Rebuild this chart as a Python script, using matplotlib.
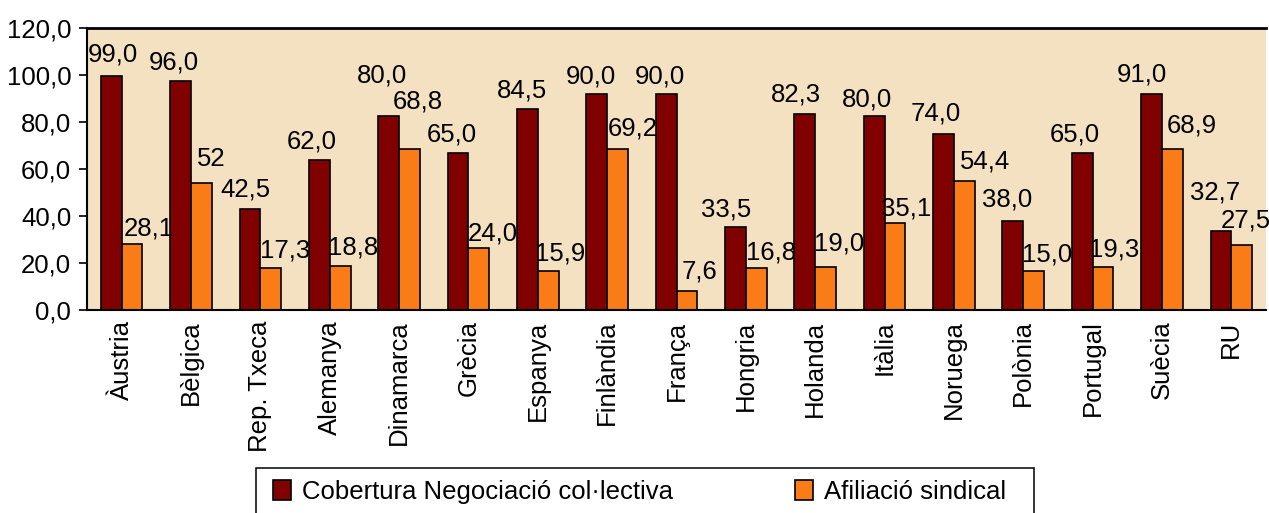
import matplotlib
matplotlib.use("Agg")
import matplotlib.pyplot as plt
from matplotlib.patches import Rectangle
import numpy as np

# ---- data ----
countries = ["Àustria", "Bèlgica", "Rep. Txeca", "Alemanya", "Dinamarca", "Grècia",
             "Espanya", "Finlàndia", "França", "Hongria", "Holanda", "Itàlia",
             "Noruega", "Polònia", "Portugal", "Suècia", "RU"]
cobertura = [99.6, 97.3, 42.9, 64.0, 82.7, 66.6, 85.4, 91.9, 91.9, 35.4, 83.4, 82.7,
             75.1, 38.0, 66.6, 91.9, 33.7]
afiliacio = [27.9, 54.1, 17.7, 18.6, 68.3, 26.2, 16.7, 68.3, 8.2, 17.7, 18.4, 37.1,
             54.8, 16.7, 18.4, 68.3, 27.8]
cobertura_labels = ["99,0", "96,0", "42,5", "62,0", "80,0", "65,0", "84,5", "90,0", "90,0",
                    "33,5", "82,3", "80,0", "74,0", "38,0", "65,0", "91,0", "32,7"]
afiliacio_labels = ["28,1", "52", "17,3", "18,8", "68,8", "24,0", "15,9", "69,2", "7,6",
                    "16,8", "19,0", "35,1", "54,4", "15,0", "19,3", "68,9", "27,5"]
series_names = ["Cobertura Negociació col·lectiva", "Afiliació sindical"]
yticks = [0, 20, 40, 60, 80, 100, 120]

# ---- label placement (pixel offsets from bar top centre) ----
cob_off = [(1.5, 14), (-6.7, 11.7), (-5, 12.3), (-8, 11.3), (-7, 33.6), (-6, 11.7),
           (-5, 12.3), (-5.7, 11), (-6, 11), (-9, 10), (-8.5, 13), (-7, 9.3),
           (-7.3, 12.6), (-5.6, 14.7), (-7.5, 11.6), (-9.8, 12.7), (-5.7, 31.4)]
afi_off = [(17, 9), (10, 17), (14, 10.6), (13, 11.3), (8, 41), (14, 7.7), (12, 10.7),
           (15, 13.6), (12.5, 12.3), (15, 9.3), (13.5, 16.7), (10.7, 7.7), (21, 12.7),
           (13, 9.7), (11, 10.7), (19.7, 16.6), (4, 17)]

plt.rcParams['font.family'] = ['Liberation Sans', 'DejaVu Sans']
FS = 18.5

W, H = 1269, 513
fig = plt.figure(figsize=(W / 100, H / 100), dpi=100)
ax = fig.add_axes([87 / W, 1 - 310 / H, (1266 - 87) / W, (310 - 28) / H])

dark = '#800000'
orange = '#FA7C17'
bg = '#F4E1C2'
ax.set_facecolor(bg)

x = np.arange(len(countries))
bw = 0.3
b1 = ax.bar(x - bw / 2, cobertura, bw, color=dark, edgecolor='black', linewidth=1.2,
            label=series_names[0])
b2 = ax.bar(x + bw / 2, afiliacio, bw, color=orange, edgecolor='black', linewidth=1.2,
            label=series_names[1])

for xi, v, lab, (dx, dy) in zip(x - bw / 2, cobertura, cobertura_labels, cob_off):
    ax.annotate(lab, (xi, v), xytext=(dx, dy), textcoords='offset pixels',
                ha='center', va='baseline', fontsize=FS, color='black')
for xi, v, lab, (dx, dy) in zip(x + bw / 2, afiliacio, afiliacio_labels, afi_off):
    ax.annotate(lab, (xi, v), xytext=(dx, dy), textcoords='offset pixels',
                ha='center', va='baseline', fontsize=FS, color='black',
                annotation_clip=False)

ax.set_xlim(-0.5, len(countries) - 0.5)
ax.set_ylim(0, 120)
ax.set_yticks(yticks)
ax.set_yticklabels([f"{t:.1f}".replace('.', ',') for t in yticks], fontsize=FS)
ax.set_xticks(x)
ax.set_xticklabels(countries, rotation=90, fontsize=FS, va='top', ha='center')
ax.tick_params(axis='x', length=0, pad=7.5)
ax.tick_params(axis='y', length=5.8, width=1.2, direction='out', pad=5.5)

for s in ['left', 'bottom']:
    ax.spines[s].set_linewidth(1.5)
    ax.spines[s].set_color('black')
ax.spines['top'].set_linewidth(2)
ax.spines['top'].set_color('black')
ax.spines['right'].set_visible(False)

# legend frame (extends below the figure edge as in the reference)
fig.patches.append(Rectangle((256 / W, -40 / H), (1034 - 256) / W, (40 + 513 - 467.7) / H,
                             transform=fig.transFigure, facecolor='white',
                             edgecolor='black', linewidth=1.1, zorder=0))

leg = fig.legend(handles=[b1, b2], labels=series_names, loc='upper left',
                 bbox_to_anchor=(273 / W, 1 - 479.5 / H),
                 bbox_transform=fig.transFigure, ncol=2,
                 fontsize=FS, frameon=False, borderaxespad=0, borderpad=0,
                 handlelength=0.7, handleheight=0.85, handletextpad=0.42,
                 columnspacing=4.75)

fig.savefig('out.png', dpi=100)
